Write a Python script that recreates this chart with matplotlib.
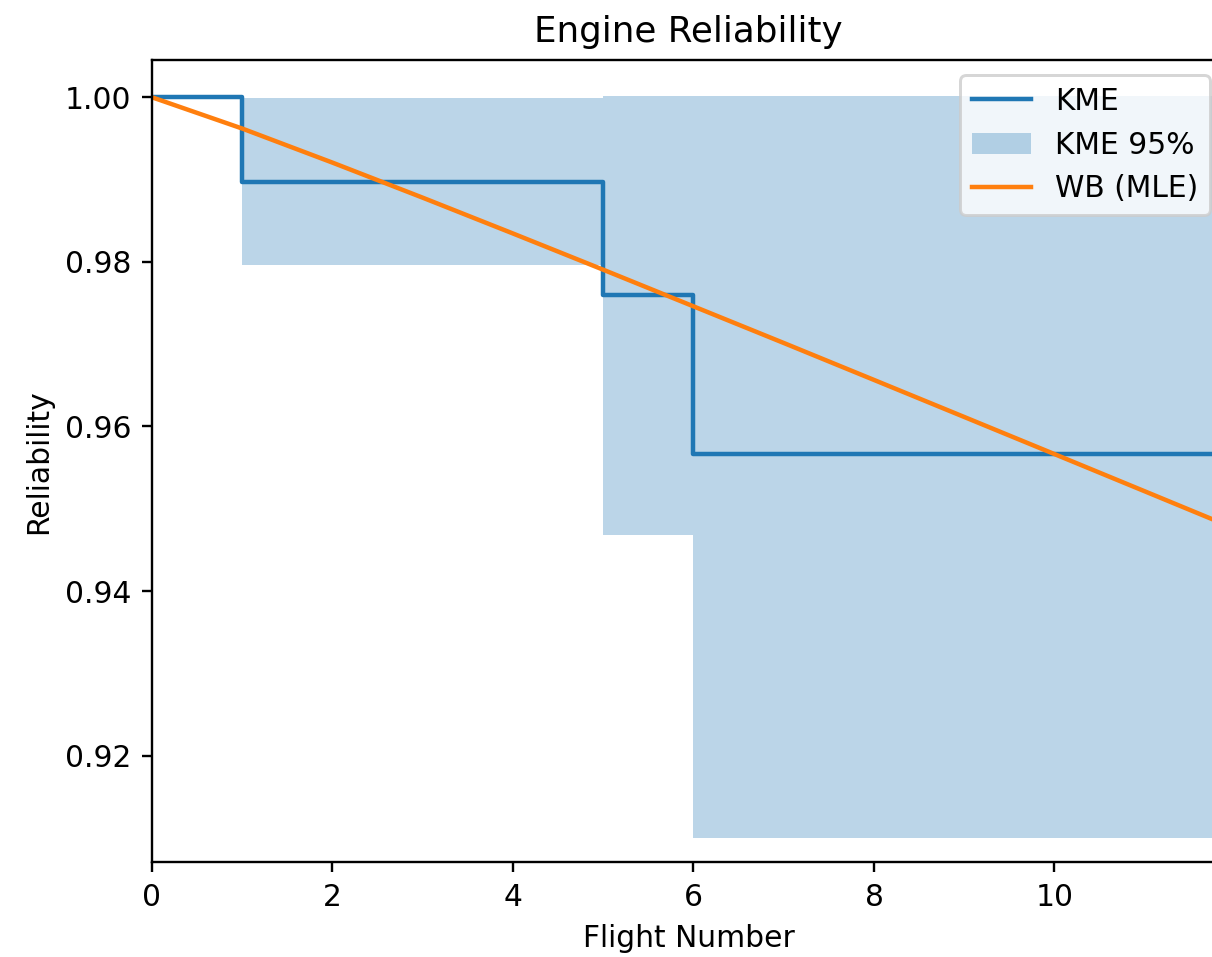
import matplotlib
matplotlib.use("Agg")
import matplotlib.pyplot as plt

# Kaplan-Meier estimate (step function)
kme_flights = [0, 1, 5, 6, 11.9]
kme_reliability = [1.0, 0.98965, 0.97592, 0.95666, 0.95666]

# 95% confidence band of the KME
band_flights = [0, 1, 5, 6, 11.9]
band_lower = [1.0, 0.97962, 0.94682, 0.90999, 0.90999]
band_upper = [1.0, 0.99990, 1.00020, 1.00020, 1.00020]

# Weibull fit (MLE)
wb_flights = [0, 1, 2, 3, 4, 5, 6, 7, 8, 9, 10, 11, 12]
wb_reliability = [1.0, 0.99620, 0.99206, 0.98780, 0.98345, 0.97905, 0.97460,
                  0.97015, 0.96566, 0.96116, 0.95665, 0.95213, 0.94760]

dpi = 214
fig = plt.figure(figsize=(1212 / dpi, 957 / dpi), dpi=dpi)
# the original picture is cut off on the right, so the axes run past the edge
ax = fig.add_axes([152 / 1212, 1 - 862.3 / 957, (1225 - 152) / 1212, (862.3 - 60) / 957])

ax.step(kme_flights, kme_reliability, where="post", color="tab:blue", label="KME")
ax.fill_between(band_flights, band_lower, band_upper, step="post",
                color="tab:blue", alpha=0.3, linewidth=0, label="KME 95%")
ax.plot(wb_flights, wb_reliability, color="tab:orange", label="WB (MLE)")

ax.set_xlim(0, 11.89)
ax.set_ylim(0.90705, 1.00453)
ax.set_yticks([0.92, 0.94, 0.96, 0.98, 1.00])
ax.set_xticks([0, 2, 4, 6, 8, 10])

ax.set_title("Engine Reliability")
ax.set_xlabel("Flight Number")
ax.set_ylabel("Reliability")
ax.legend(loc="upper right")

fig.savefig("out.png", dpi=dpi)
